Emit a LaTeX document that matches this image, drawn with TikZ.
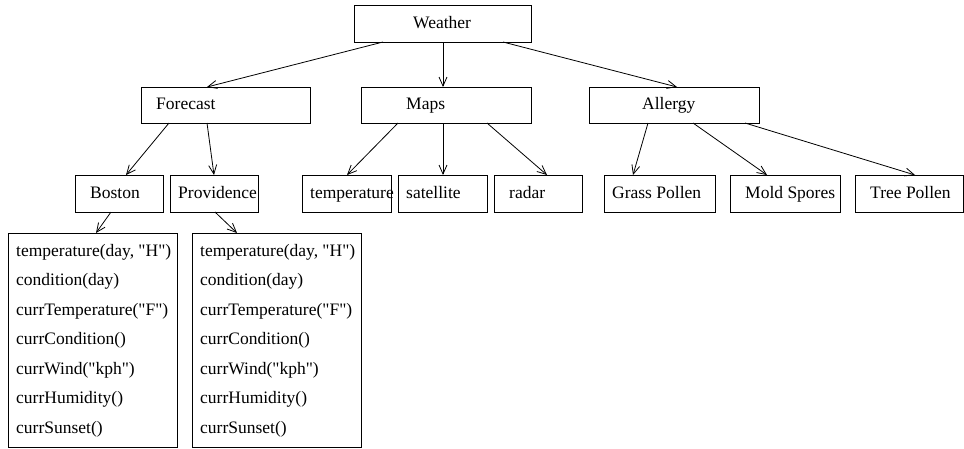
\documentclass[tikz,border=0pt]{standalone}
\usepackage{fontspec}
\setmainfont{Liberation Serif}[Ligatures=TeXOff]
\usetikzlibrary{arrows.meta}
\begin{document}
\begin{tikzpicture}[x=1pt,y=-1pt,
  box/.style={draw, line width=0.8pt, inner sep=0pt, outer sep=0pt},
  lbl/.style={anchor=base west, inner sep=0pt, font=\fontsize{17.5}{20}\selectfont},
  arr/.style={draw, line width=0.8pt, -{Straight Barb[length=9pt,width=8pt]}}]
\useasboundingbox (0,0) rectangle (964,448);
% boxes
\node[box, minimum width=177pt, minimum height=37pt] (w) at (442.5,23.5) {};
\node[box, minimum width=169pt, minimum height=36pt] (f) at (225.5,105) {};
\node[box, minimum width=170pt, minimum height=36pt] (m) at (446,105) {};
\node[box, minimum width=170pt, minimum height=36pt] (a) at (674,105) {};
\node[box, minimum width=88pt, minimum height=37pt] (b) at (119,193.5) {};
\node[box, minimum width=88pt, minimum height=37pt] (p) at (214,193.5) {};
\node[box, minimum width=89pt, minimum height=37pt] (t) at (346.5,193.5) {};
\node[box, minimum width=89pt, minimum height=37pt] (s) at (442.5,193.5) {};
\node[box, minimum width=88pt, minimum height=37pt] (r) at (538,193.5) {};
\node[box, minimum width=111pt, minimum height=37pt] (g) at (659.5,193.5) {};
\node[box, minimum width=110pt, minimum height=37pt] (mo) at (785,193.5) {};
\node[box, minimum width=108pt, minimum height=37pt] (tr) at (909,193.5) {};
\node[box, minimum width=169pt, minimum height=214pt] (l1) at (92.5,340) {};
\node[box, minimum width=169pt, minimum height=214pt] (l2) at (276.5,340) {};
% labels
\node[lbl] (tw) at (413,28) {Weather};
\node[lbl] (tf) at (156,109.5) {Forecast};
\node[lbl] (tm) at (406,109.5) {Maps};
\node[lbl] (ta) at (642,109.5) {Allergy};
\node[lbl] (tb) at (90,198) {Boston};
\node[lbl] (tp) at (178,198) {Providence};
\node[lbl] (tt) at (310,198) {temperature};
\node[lbl] (ts) at (406,198) {satellite};
\node[lbl] (tr2) at (509,198) {radar};
\node[lbl] (tg) at (612,198) {Grass Pollen};
\node[lbl] (tmo) at (745,198) {Mold Spores};
\node[lbl] (ttr) at (870,198) {Tree Pollen};
\foreach \xx/\nm in {16/a,200/b}{
  \node[lbl] (\nm1) at (\xx,256) {temperature(day, "H")};
  \node[lbl] (\nm2) at (\xx,285.5) {condition(day)};
  \node[lbl] (\nm3) at (\xx,315) {currTemperature("F")};
  \node[lbl] (\nm4) at (\xx,344.5) {currCondition()};
  \node[lbl] (\nm5) at (\xx,374) {currWind("kph")};
  \node[lbl] (\nm6) at (\xx,403.5) {currHumidity()};
  \node[lbl] (\nm7) at (\xx,433) {currSunset()};
}
% arrows
\draw[arr] ([xshift=29pt]w.south west) -- ([xshift=66pt]f.north west);
\draw[arr] ([xshift=89pt]w.south west) -- ([xshift=82pt]m.north west);
\draw[arr] ([xshift=149pt]w.south west) -- ([xshift=88pt]a.north west);
\draw[arr] ([xshift=28pt]f.south west) -- ([xshift=51pt]b.north west);
\draw[arr] ([xshift=66pt]f.south west) -- ([xshift=44pt]p.north west);
\draw[arr] ([xshift=37pt]m.south west) -- ([xshift=45pt]t.north west);
\draw[arr] ([xshift=82pt]m.south west) -- ([xshift=45pt]s.north west);
\draw[arr] ([xshift=126pt]m.south west) -- ([xshift=53pt]r.north west);
\draw[arr] ([xshift=59pt]a.south west) -- ([xshift=29pt]g.north west);
\draw[arr] ([xshift=104pt]a.south west) -- ([xshift=37pt]mo.north west);
\draw[arr] ([xshift=156pt]a.south west) -- ([xshift=60pt]tr.north west);
\draw[arr] ([xshift=36pt]b.south west) -- ([xshift=88pt]l1.north west);
\draw[arr] ([xshift=45pt]p.south west) -- ([xshift=45pt]l2.north west);
\end{tikzpicture}
\end{document}
